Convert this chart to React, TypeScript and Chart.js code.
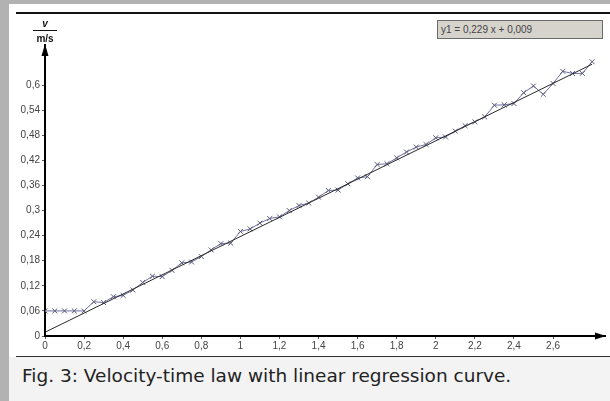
import React, { useEffect, useRef } from "react";
import { Chart, registerables } from "chart.js";
Chart.register(...registerables);

// measured time values (s)
const times = [
  0, 0.05, 0.1, 0.15, 0.2, 0.25, 0.3, 0.35, 0.4, 0.45, 0.5, 0.55, 0.6, 0.65, 0.7, 0.75, 0.8, 0.85, 0.9, 0.95,
  1.0, 1.05, 1.1, 1.15, 1.2, 1.25, 1.3, 1.35, 1.4, 1.45, 1.5, 1.55, 1.6, 1.65, 1.7, 1.75, 1.8, 1.85, 1.9, 1.95,
  2.0, 2.05, 2.1, 2.15, 2.2, 2.25, 2.3, 2.35, 2.4, 2.45, 2.5, 2.55, 2.6, 2.65, 2.7, 2.75, 2.8,
];
// measured velocities (m/s)
const velocities = [
  0.06, 0.06, 0.06, 0.06, 0.06, 0.082, 0.08, 0.094, 0.097, 0.11, 0.128, 0.143, 0.142, 0.157, 0.175, 0.177, 0.19, 0.206, 0.221, 0.222,
  0.25, 0.256, 0.27, 0.281, 0.285, 0.3, 0.312, 0.318, 0.332, 0.348, 0.349, 0.364, 0.378, 0.381, 0.41, 0.412, 0.426, 0.44, 0.452, 0.458,
  0.474, 0.476, 0.49, 0.503, 0.512, 0.524, 0.552, 0.553, 0.556, 0.582, 0.598, 0.578, 0.604, 0.633, 0.628, 0.628, 0.656,
];
// regression line end points
const regTimes = [0, 2.8];
const regVelocities = [0.009, 0.65];

const xTicks = [0, 0.2, 0.4, 0.6, 0.8, 1, 1.2, 1.4, 1.6, 1.8, 2, 2.2, 2.4, 2.6];
const yTicks = [0, 0.06, 0.12, 0.18, 0.24, 0.3, 0.36, 0.42, 0.48, 0.54, 0.6];
const xMax = 2.866;
const yMax = 0.696;

const legendText = "y1 = 0,229 x + 0,009";
const caption = "Fig. 3: Velocity-time law with linear regression curve.";
const yTitleTop = "v";
const yTitleBottom = "m/s";

const fmt = (v: number) => String(v).replace(".", ",");

const axisPlugin = {
  id: "axisArrows",
  afterDraw(chart: any) {
    const { ctx, chartArea } = chart;
    const l = chartArea.left;
    const b = chartArea.bottom;
    ctx.save();
    ctx.fillStyle = "#000";
    // y arrow
    ctx.beginPath();
    ctx.moveTo(l, chartArea.top - 1);
    ctx.lineTo(l - 3.5, chartArea.top + 11);
    ctx.lineTo(l + 3.5, chartArea.top + 11);
    ctx.closePath();
    ctx.fill();
    // x arrow
    ctx.beginPath();
    ctx.moveTo(chartArea.right + 1, b);
    ctx.lineTo(chartArea.right - 10, b - 3.5);
    ctx.lineTo(chartArea.right - 10, b + 3.5);
    ctx.closePath();
    ctx.fill();
    // y title
    ctx.fillStyle = "#111";
    ctx.textAlign = "center";
    ctx.textBaseline = "alphabetic";
    ctx.font = "italic bold 10px 'Liberation Sans'";
    ctx.fillText(yTitleTop, l, chartArea.top - 18);
    ctx.font = "bold 10px 'Liberation Sans'";
    ctx.fillText(yTitleBottom, l, chartArea.top - 3);
    ctx.fillRect(l - 12, chartArea.top - 15, 24, 1);
    ctx.restore();
  },
};

export default function App() {
  const ref = useRef<HTMLCanvasElement>(null);
  useEffect(() => {
    const measured = times.map((t, i) => ({ x: t, y: velocities[i] }));
    const reg = regTimes.map((t, i) => ({ x: t, y: regVelocities[i] }));
    const chart = new Chart(ref.current!, {
      type: "scatter",
      data: {
        datasets: [
          {
            label: "regression",
            data: reg,
            showLine: true,
            borderColor: "#2a2a2a",
            borderWidth: 1,
            pointRadius: 0,
          },
          {
            label: "v",
            data: measured,
            showLine: true,
            borderColor: "#6e6eaa",
            borderWidth: 1,
            pointStyle: "crossRot",
            pointRadius: 3.5,
            pointBorderColor: "#5a5a74",
            pointBorderWidth: 1,
          },
        ],
      },
      plugins: [axisPlugin],
      options: {
        responsive: false,
        animation: false,
        layout: { padding: { top: 31, right: 3, left: 0, bottom: 0 } },
        plugins: { legend: { display: false }, tooltip: { enabled: false } },
        scales: {
          x: {
            type: "linear",
            min: 0,
            max: xMax,
            afterBuildTicks: (s: any) => {
              s.ticks = xTicks.map((v) => ({ value: v }));
            },
            afterFit: (s: any) => {
              s.height = 21;
            },
            grid: { drawOnChartArea: false, drawTicks: true, tickLength: 3, color: "#555" },
            border: { color: "#000", width: 2 },
            ticks: {
              padding: 1,
              maxRotation: 0,
              autoSkip: false,
              color: "#444",
              font: { family: "'Liberation Sans'", size: 10 },
              callback: (v: any) => fmt(Number(v)),
            },
          },
          y: {
            type: "linear",
            min: 0,
            max: yMax,
            afterBuildTicks: (s: any) => {
              s.ticks = yTicks.map((v) => ({ value: v }));
            },
            afterFit: (s: any) => {
              s.width = 36;
            },
            grid: { drawOnChartArea: false, drawTicks: true, tickLength: 3, color: "#555" },
            border: { color: "#000", width: 2 },
            ticks: {
              padding: 2,
              autoSkip: false,
              color: "#444",
              font: { family: "'Liberation Sans'", size: 10 },
              callback: (v: any) => fmt(Number(v)),
            },
          },
        },
      },
    } as any);
    return () => chart.destroy();
  }, []);

  return (
    <div
      style={{
        position: "fixed",
        left: 0,
        top: 0,
        width: 610,
        height: 401,
        background: "#fff",
        overflow: "hidden",
      }}
    >
      <div style={{ position: "absolute", left: 0, top: 0, width: 9, height: 401, background: "#b2b2b2" }} />
      <div style={{ position: "absolute", left: 0, top: 0, width: 610, height: 4, background: "#b2b2b2" }} />
      <div style={{ position: "absolute", left: 16, top: 12, width: 594, height: 2, background: "#111" }} />
      <canvas
        ref={ref}
        width={601}
        height={343}
        style={{ position: "absolute", left: 9, top: 14, width: 601, height: 343 }}
      />
      <div
        style={{
          position: "absolute",
          left: 437,
          top: 20,
          width: 166,
          height: 19,
          background: "#d6d3cd",
          border: "1px solid #6a6a6a",
          font: "10px 'Liberation Sans'",
          color: "#444",
          lineHeight: "17px",
          paddingLeft: 3,
          boxSizing: "border-box",
        }}
      >
        {legendText}
      </div>
      <div style={{ position: "absolute", left: 16, top: 356, width: 594, height: 1, background: "#333" }} />
      <div
        style={{
          position: "absolute",
          left: 9,
          top: 357,
          width: 601,
          height: 44,
          background: "#f3f3f3",
          font: "18.5px 'DejaVu Sans'",
          color: "#222",
          boxSizing: "border-box",
          paddingLeft: 13,
          paddingTop: 8,
          whiteSpace: "nowrap",
        }}
      >
        {caption}
      </div>
    </div>
  );
}
